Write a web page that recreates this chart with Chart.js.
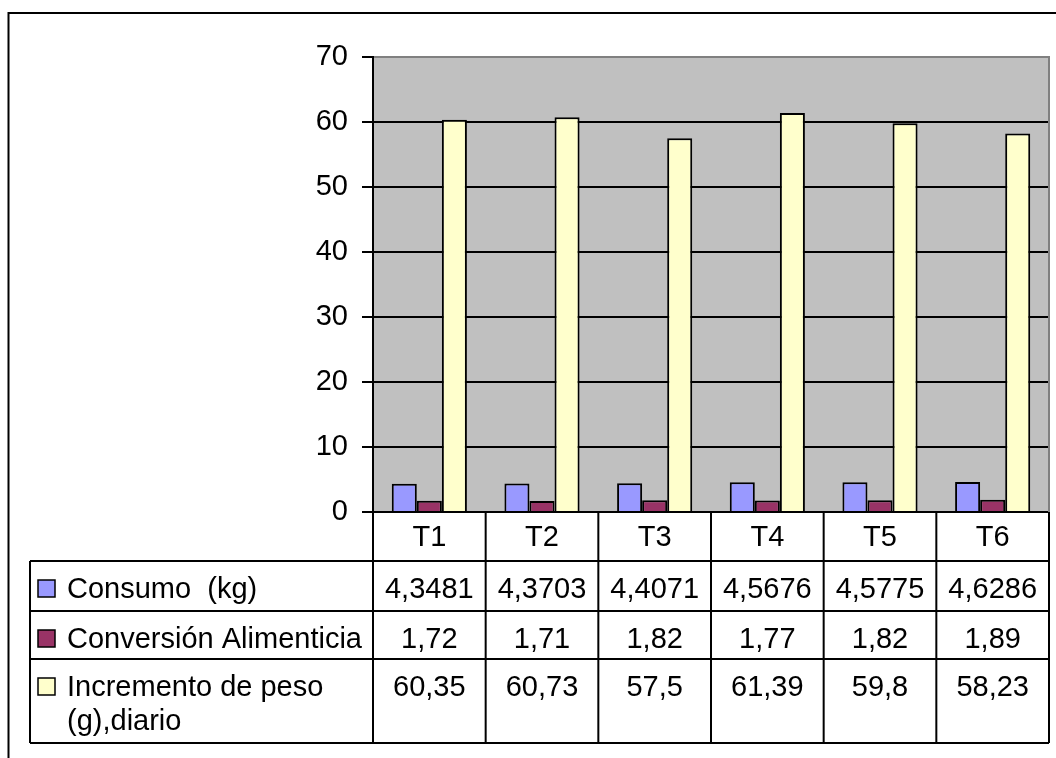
<!DOCTYPE html>
<html>
<head>
<meta charset="utf-8">
<script src="https://cdn.jsdelivr.net/npm/chart.js@4"></script>
<style>
  body { margin: 0; background: #fff; }
  canvas { display: block; }
</style>
</head>
<body>
<canvas id="grafico" width="1056" height="758"></canvas>
<script>
// tratamientos y series
const tratamientos = ['T1', 'T2', 'T3', 'T4', 'T5', 'T6'];
const consumo = [4.3481, 4.3703, 4.4071, 4.5676, 4.5775, 4.6286];
const conversion = [1.72, 1.71, 1.82, 1.77, 1.82, 1.89];
const incremento = [60.35, 60.73, 57.5, 61.39, 59.8, 58.23];
const ticksY = [0, 10, 20, 30, 40, 50, 60, 70];

const FUENTE = '"Liberation Sans", Arial, sans-serif';
const TAM = 29;

const series = [
  { label: 'Consumo  (kg)', lineas: ['Consumo  (kg)'], data: consumo, color: '#9999ff' },
  { label: 'Conversión Alimenticia', lineas: ['Conversión Alimenticia'], data: conversion, color: '#993366' },
  { label: 'Incremento de peso (g),diario', lineas: ['Incremento de peso', '(g),diario'], data: incremento, color: '#ffffcc' },
];

const fmt = v => String(v).replace('.', ',');

// fondo, marco exterior y area gris
const fondoPlugin = {
  id: 'fondo',
  beforeDraw(chart) {
    const { ctx, chartArea: a } = chart;
    ctx.save();
    ctx.fillStyle = '#fff';
    ctx.fillRect(0, 0, chart.width, chart.height);
    ctx.strokeStyle = '#000';
    ctx.lineWidth = 2;
    ctx.beginPath();
    ctx.moveTo(8.5, chart.height + 2);
    ctx.lineTo(8.5, 13);
    ctx.lineTo(chart.width + 2, 13);
    ctx.stroke();
    ctx.fillStyle = '#c0c0c0';
    ctx.fillRect(a.left, a.top, a.right - a.left, a.bottom - a.top);
    ctx.restore();
  },
  afterDatasetsDraw(chart) {
    const { ctx, chartArea: a } = chart;
    ctx.save();
    ctx.strokeStyle = '#808080';
    ctx.lineWidth = 2;
    ctx.beginPath();
    ctx.moveTo(a.left + 1, a.top);
    ctx.lineTo(a.right, a.top);
    ctx.lineTo(a.right, a.bottom);
    ctx.stroke();
    ctx.restore();
  }
};

// tabla de datos bajo el eje X
const tablaPlugin = {
  id: 'tabla',
  afterDraw(chart) {
    const { ctx, chartArea: a } = chart;
    const x = chart.scales.x;
    const n = tratamientos.length;
    const bordes = [a.left];
    for (let i = 0; i < n - 1; i++) {
      bordes.push((x.getPixelForValue(i) + x.getPixelForValue(i + 1)) / 2);
    }
    bordes.push(a.right);

    const izq = 30;
    const filas = [a.bottom, a.bottom + 49, a.bottom + 99, a.bottom + 147, a.bottom + 231];

    ctx.save();
    ctx.strokeStyle = '#000';
    ctx.lineWidth = 2;
    ctx.beginPath();
    // verticales de categorias
    bordes.forEach(bx => {
      ctx.moveTo(bx, filas[0]);
      ctx.lineTo(bx, filas[4]);
    });
    // borde izquierdo de la columna de leyenda
    ctx.moveTo(izq, filas[1]);
    ctx.lineTo(izq, filas[4]);
    // horizontales
    for (let r = 1; r < filas.length; r++) {
      ctx.moveTo(izq, filas[r]);
      ctx.lineTo(a.right, filas[r]);
    }
    ctx.stroke();

    ctx.fillStyle = '#000';
    ctx.font = `${TAM}px ${FUENTE}`;
    ctx.textBaseline = 'alphabetic';
    ctx.textAlign = 'center';
    tratamientos.forEach((t, i) => {
      ctx.fillText(t, (bordes[i] + bordes[i + 1]) / 2, filas[0] + 34);
    });

    series.forEach((s, r) => {
      const base = filas[r + 1] + 37;
      // cuadro de leyenda
      ctx.fillStyle = s.color;
      ctx.fillRect(38, base - 18, 17, 17);
      ctx.strokeStyle = '#000';
      ctx.lineWidth = 1.5;
      ctx.strokeRect(38, base - 18, 17, 17);
      ctx.fillStyle = '#000';
      ctx.textAlign = 'left';
      s.lineas.forEach((l, k) => ctx.fillText(l, 67, base + k * 34));
      ctx.textAlign = 'center';
      s.data.forEach((v, i) => {
        ctx.fillText(fmt(v), (bordes[i] + bordes[i + 1]) / 2, base);
      });
    });
    ctx.restore();
  }
};

new Chart(document.getElementById('grafico'), {
  type: 'bar',
  data: {
    labels: tratamientos,
    datasets: series.map(s => ({
      label: s.label,
      data: s.data,
      backgroundColor: s.color,
      borderColor: '#000',
      borderWidth: 2,
      categoryPercentage: 0.667,
      barPercentage: 1.0,
    }))
  },
  options: {
    responsive: false,
    animation: false,
    layout: { padding: { top: 57, bottom: 246, right: 7, left: 0 } },
    plugins: {
      legend: { display: false },
      tooltip: { enabled: false },
    },
    scales: {
      x: {
        ticks: { display: false },
        grid: { display: false },
        border: { display: false },
        afterFit: s => { s.height = 0; },
      },
      y: {
        min: 0,
        max: 70,
        afterBuildTicks: s => { s.ticks = ticksY.map(v => ({ value: v })); },
        afterFit: s => { s.width = 373; },
        ticks: {
          color: '#000',
          padding: 14,
          font: { family: FUENTE, size: TAM },
        },
        grid: {
          color: '#000',
          lineWidth: 2,
          tickLength: 11,
        },
        border: { color: '#000', width: 2 },
      }
    }
  },
  plugins: [fondoPlugin, tablaPlugin]
});
</script>
</body>
</html>
